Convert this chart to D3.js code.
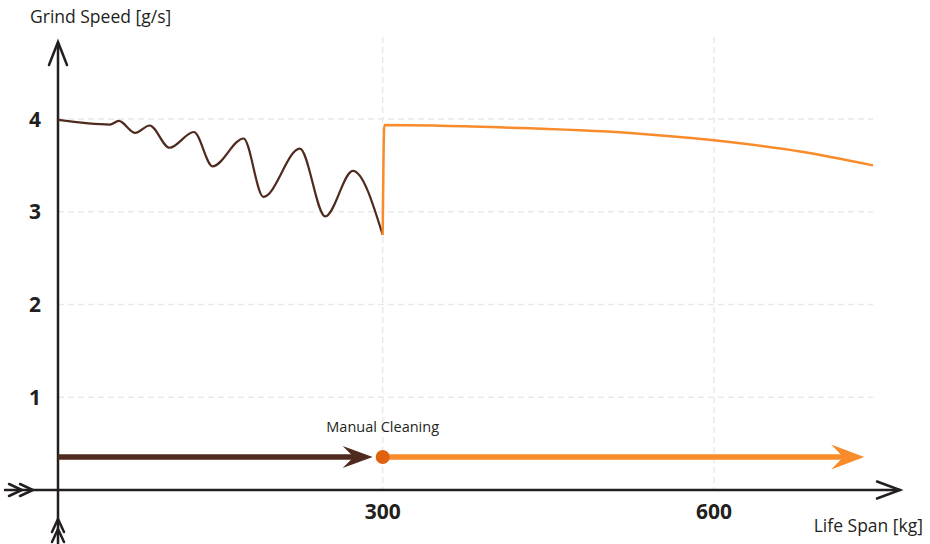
<!DOCTYPE html>
<html>
<head>
<meta charset="utf-8">
<script src="https://cdn.jsdelivr.net/npm/d3@7"></script>
<style>
  body { margin: 0; background: #fff; }
  svg { font-family: "Open Sans", "Noto Sans", sans-serif; }
  .grid line { stroke: #e9e9e9; stroke-width: 1.5; stroke-dasharray: 6 4; }
  .tick-label { font-weight: bold; font-size: 21px; fill: #231f20; }
  .axis-title { font-size: 17.5px; fill: #231f20; }
</style>
</head>
<body>
<svg id="chart" width="930" height="544"></svg>
<script>

// grind speed before manual cleaning (brown, wobbling)
const beforeKg    = [6, 53, 61, 76, 89, 107, 129, 146, 174, 192, 225, 248, 273, 300]
const beforeSpeed = [3.99, 3.94, 3.98, 3.85, 3.93, 3.69, 3.86, 3.49, 3.79, 3.16, 3.68, 2.95, 3.44, 2.75]

// grind speed after manual cleaning (orange, smooth)
const afterKg    = [300, 301.5, 406, 524, 600, 678, 744]
const afterSpeed = [2.75, 3.935, 3.91, 3.85, 3.77, 3.65, 3.50]

const yTicks = [1, 2, 3, 4]
const xTicks = [300, 600]

// timeline arrows under the curve
const phaseStart = [6, 300]
const phaseEnd   = [300, 736]
const cleaningAt = 300
const cleaningLabel = "Manual Cleaning"

const brown = "#4f2a1e"
const orange = "#f98b2b"
const dotColor = "#e0620e"
const axisColor = "#231f20"

const svg = d3.select("#chart")

    // x axis crosses the y axis at 6 kg
var x = d3.scaleLinear().domain([6, 600]).range([58, 714])
var y = d3.scaleLinear().domain([0, 4]).range([490, 119])

const x0 = x(6), y0 = y(0)

// grid
var grid = svg.append("g").attr("class", "grid")
grid.selectAll(".hgrid")
    .data(yTicks).enter().append("line")
    .attr("x1", x0).attr("x2", 873)
    .attr("y1", d => y(d)).attr("y2", d => y(d))
grid.selectAll(".vgrid")
    .data(xTicks).enter().append("line")
    .attr("x1", d => x(d)).attr("x2", d => x(d))
    .attr("y1", 37).attr("y2", y0)

// tick labels
svg.selectAll(".ylab")
    .data(yTicks).enter().append("text")
    .attr("class", "tick-label")
    .attr("x", 35).attr("y", d => y(d) + 7.5)
    .attr("text-anchor", "middle")
    .text(d => d)
svg.selectAll(".xlab")
    .data(xTicks).enter().append("text")
    .attr("class", "tick-label")
    .attr("x", d => x(d)).attr("y", 519)
    .attr("text-anchor", "middle")
    .text(d => d)

// axis titles
svg.append("text").attr("class", "axis-title")
    .attr("x", 30).attr("y", 23).text("Grind Speed [g/s]")
svg.append("text").attr("class", "axis-title")
    .attr("x", 923).attr("y", 532).attr("text-anchor", "end").text("Life Span [kg]")

// axes lines
var axes = svg.append("g")
    .attr("stroke", axisColor).attr("stroke-width", 2.5)
    .attr("fill", "none").attr("stroke-linecap", "round")
axes.append("line").attr("x1", 5).attr("x2", 900).attr("y1", y0).attr("y2", y0)
axes.append("line").attr("x1", x0).attr("x2", x0).attr("y1", 544).attr("y2", 43)
// open arrow heads
axes.append("path").attr("d", `M${x0 - 9},${65} L${x0},${42} L${x0 + 9},${65}`)
axes.append("path").attr("d", `M${877},${y0 - 8.5} L${900},${y0} L${877},${y0 + 8.5}`)
// double chevrons at the far ends
;[22, 33].forEach(t => {
    axes.append("path").attr("d", `M${t - 13},${y0 - 6} L${t},${y0} L${t - 13},${y0 + 6}`)
})
;[519, 529].forEach(t => {
    axes.append("path").attr("d", `M${x0 - 6},${t + 13} L${x0},${t} L${x0 + 6},${t + 13}`)
})

// curves
var line = d3.line()
    .x(d => x(d[0]))
    .y(d => y(d[1]))
    .curve(d3.curveMonotoneX)

svg.append("path")
    .attr("d", line(d3.zip(beforeKg, beforeSpeed)))
    .attr("fill", "none").attr("stroke", brown).attr("stroke-width", 2.2)

svg.append("path")
    .attr("d", line(d3.zip(afterKg, afterSpeed)))
    .attr("fill", "none").attr("stroke", orange).attr("stroke-width", 2.5)

// timeline arrows
const ay = y0 - 33

function arrowHead(tip, len, half, notch) {
    return `M${tip},${ay} L${tip - len},${ay - half} L${tip - len + notch},${ay} L${tip - len},${ay + half} Z`
}

svg.append("line")
    .attr("x1", x(phaseStart[0])).attr("x2", x(phaseEnd[0]) - 20)
    .attr("y1", ay).attr("y2", ay)
    .attr("stroke", brown).attr("stroke-width", 5.5)
svg.append("path")
    .attr("d", arrowHead(x(phaseEnd[0]) - 10, 30, 11, 11))
    .attr("fill", brown)

svg.append("line")
    .attr("x1", x(phaseStart[1])).attr("x2", x(phaseEnd[1]) - 20)
    .attr("y1", ay).attr("y2", ay)
    .attr("stroke", orange).attr("stroke-width", 5.5)
svg.append("path")
    .attr("d", arrowHead(x(phaseEnd[1]), 33, 12.5, 12))
    .attr("fill", orange)

svg.append("circle")
    .attr("cx", x(cleaningAt)).attr("cy", ay).attr("r", 7)
    .attr("fill", dotColor)

svg.append("text")
    .attr("x", x(cleaningAt)).attr("y", ay - 25)
    .attr("text-anchor", "middle")
    .attr("font-size", 14.5).attr("fill", "#231f20")
    .text(cleaningLabel)

</script>
</body>
</html>
